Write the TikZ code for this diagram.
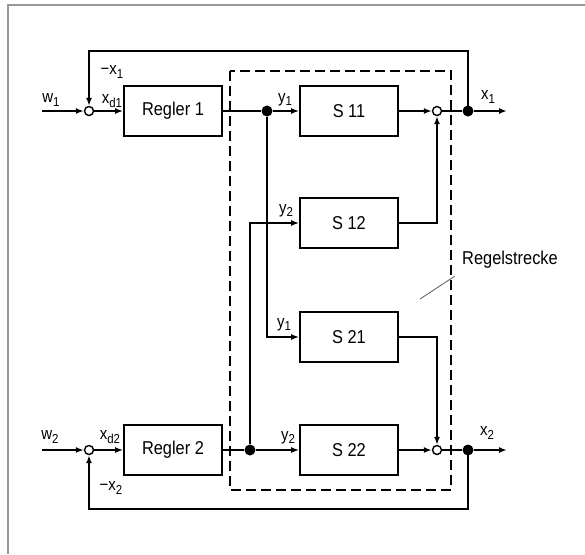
\documentclass[tikz,border=0pt]{standalone}
\usepackage{fontspec}
\setmainfont{Liberation Sans}[FakeStretch=0.88]
\usetikzlibrary{arrows.meta}
\newcommand{\idx}[1]{\raisebox{-0.35ex}{\fontsize{6.5}{7}\selectfont #1}}

\begin{document}
\begin{tikzpicture}[>={Latex[length=4pt,width=3pt]}, x=0.5pt, y=-0.5pt, line width=0.9pt, font=\fontsize{9.3}{11}\selectfont]

% Styles for blocks, summing points and branch points
\tikzstyle{block} = [draw, rectangle, minimum height=25pt, minimum width=49pt, inner sep=0pt, align=center]
\tikzstyle{sum} = [draw, circle, fill=white, minimum size=4.5pt, inner sep=0pt, line width=0.7pt]
\tikzstyle{dot} = [fill, circle, minimum size=5.5pt, inner sep=0pt]
\tikzstyle{lbl} = [font=\fontsize{8.5}{10}\selectfont, inner sep=0pt]

\useasboundingbox (0,0) rectangle (585,554);

% Frame
\draw[gray!80, line width=1pt] (8,554) -- (8,5) -- (585,5);

% Regelstrecke (dashed)
\draw[dash pattern=on 5pt off 2.5pt, line width=0.7pt] (230,71) rectangle (451,490);

% Inputs and outputs
\coordinate (in1) at (42,111);
\coordinate (in2) at (42,450);
\coordinate (out1) at (507,111);
\coordinate (out2) at (507,450);

% Top loop
\node[sum] (sum1) at (89,111) {};
\node[block] (regler1) at (173,111) {Regler 1};
\node[dot] (b1) at (267,111) {};
\node[block] (s11) at (349,111) {S 11};
\node[sum] (add1) at (437,111) {};
\node[dot] (o1) at (468,111) {};

% Cross couplings
\node[block] (s12) at (349,223) {S 12};
\node[block] (s21) at (349,337) {S 21};

% Bottom loop
\node[sum] (sum2) at (89,450) {};
\node[block] (regler2) at (173,450) {Regler 2};
\node[dot] (b2) at (250,450) {};
\node[block] (s22) at (349,450) {S 22};
\node[sum] (add2) at (437,450) {};
\node[dot] (o2) at (468,450) {};

% Signal paths, loop 1
\draw[->] (in1) -- (sum1);
\draw[->] (sum1) -- (regler1);
\draw (regler1) -- (b1);
\draw[->] (b1) -- (s11);
\draw[->] (s11) -- (add1);
\draw (add1) -- (o1);
\draw[->] (o1) -- (out1);
\draw[->] (o1.center) -- ++(0,-60) -| (sum1);

% Signal paths, loop 2
\draw[->] (in2) -- (sum2);
\draw[->] (sum2) -- (regler2);
\draw (regler2) -- (b2);
\draw[->] (b2) -- (s22);
\draw[->] (s22) -- (add2);
\draw (add2) -- (o2);
\draw[->] (o2) -- (out2);
\draw[->] (o2.center) -- ++(0,59) -| (sum2);

% Couplings
\draw[->] (b1) |- (s21);
\draw[->] (b2) |- (s12);
\draw[->] (s12) -| (add1);
\draw[->] (s21) -| (add2);

% Signal labels
\node[lbl] at (51,100) {w\idx{1}};
\node[lbl] at (112,101) {x\idx{d1}};
\node[lbl] at (112,72) {−x\idx{1}};
\node[lbl] at (285,100) {y\idx{1}};
\node[lbl] at (488,97) {x\idx{1}};
\node[lbl] at (286,211) {y\idx{2}};
\node[lbl] at (284,325) {y\idx{1}};
\node[lbl] at (50,437) {w\idx{2}};
\node[lbl] at (110,437) {x\idx{d2}};
\node[lbl] at (111,488) {−x\idx{2}};
\node[lbl] at (288,438) {y\idx{2}};
\node[lbl] at (487,433) {x\idx{2}};

% Label of the plant
\node (rs) at (510,260) {Regelstrecke};
\coordinate (rsend) at (420,299);
\draw[gray!70!black, line width=0.4pt] (rs.south west) -- (rsend);

\end{tikzpicture}
\end{document}
